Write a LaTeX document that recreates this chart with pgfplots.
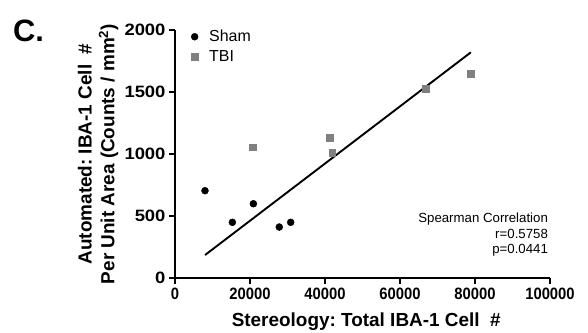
\documentclass[border=0pt]{standalone}
\usepackage{pgfplots}
\pgfplotsset{compat=1.18}
\usepackage{fontspec}
\setmainfont{Liberation Sans}
\definecolor{tbigray}{RGB}{128,128,128}
\frenchspacing
\begin{document}
\begin{tikzpicture}
\path[use as bounding box] (-175bp,-55bp) rectangle (413bp,278bp);
\begin{axis}[
  at={(0,0)}, anchor=south west,
  scale only axis, width=375bp, height=248bp,
  xmin=0, xmax=100000, ymin=0, ymax=2000,
  axis lines=left, axis line style={-, line width=1.9bp},
  tick align=outside, major tick length=6bp,
  tick style={line width=1.9bp, black},
  xtick={0,20000,40000,60000,80000,100000},
  ytick={0,500,1000,1500,2000},
  scaled ticks=false,
  xticklabels={\scalebox{0.9}[1]{0},\scalebox{0.9}[1]{20000},\scalebox{0.9}[1]{40000},\scalebox{0.9}[1]{60000},\scalebox{0.9}[1]{80000},\scalebox{0.9}[1]{100000}},
  yticklabels={\scalebox{1.12}[1]{0},\scalebox{1.12}[1]{500},\scalebox{1.12}[1]{1000},\scalebox{1.12}[1]{1500},\scalebox{1.12}[1]{2000}},
  xticklabel style={font=\bfseries\fontsize{16.5}{16.5}\selectfont},
  yticklabel style={font=\bfseries\fontsize{16.5}{16.5}\selectfont},
  xlabel={Stereology: Total IBA-1 Cell\ \ \#},
  xlabel style={font=\bfseries\fontsize{19}{19}\selectfont, at={(axis description cs:0.51,-0.175)}, anchor=center},
  ylabel={Automated: IBA-1 Cell\ \ \#\\Per Unit Area (Counts / mm\textsuperscript{2})},
  ylabel style={font=\bfseries\fontsize{19}{23}\selectfont, align=center, at={(axis description cs:-0.205,0.5)}, anchor=center},
  clip=false,
  legend style={draw=none, fill=none, at={(axis description cs:0.04,1.012)}, anchor=north west,
    font=\fontsize{16}{19}\selectfont, row sep=3bp, inner sep=1bp,
    /tikz/every odd column/.append style={column sep=9bp}},
  legend cell align=left,
]
\addplot[only marks, mark=*, mark size=3.5bp, black] coordinates {
 (8000,704) (15300,449) (20900,599) (27800,411) (30850,449)
};
\addlegendentry{Sham}
\addplot[only marks, mark=square*, mark size=3.3bp, tbigray, draw=tbigray, fill=tbigray] coordinates {
 (20800,1055) (41300,1130) (41900,1010) (66900,1525) (78900,1650)
};
\addlegendentry{TBI}
\addplot[black, line width=1.9bp, forget plot] coordinates {(8000,185) (78900,1820)};
\node[anchor=north east, align=right, inner sep=0pt, font=\fontsize{13.3}{15.5}\selectfont]
  at (axis description cs:0.995,0.262) {Spearman Correlation\\r=0.5758\\p=0.0441};
\node[anchor=base west, inner sep=0pt, font=\bfseries\fontsize{31}{31}\selectfont]
  at (axis description cs:-0.432,0.952) {C.};
\end{axis}
\end{tikzpicture}
\end{document}
